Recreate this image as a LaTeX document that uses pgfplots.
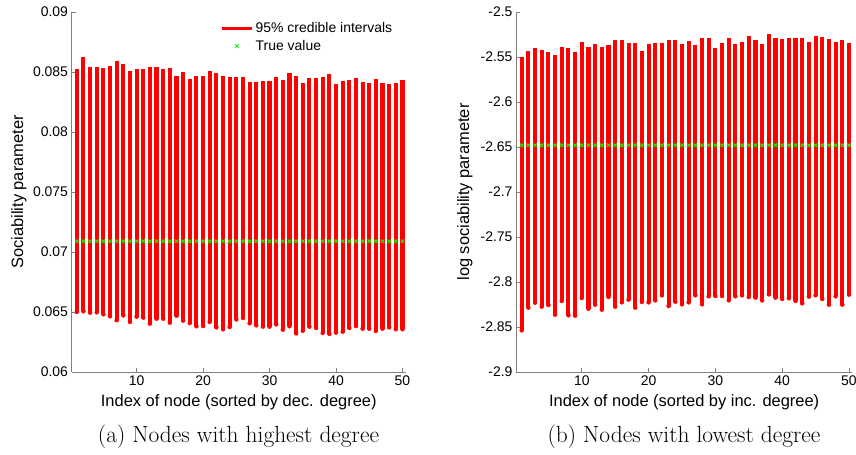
\documentclass[border=0pt]{standalone}
\usepackage{fontspec}
\usepackage{pgfplots}
\usepackage{pgfplotstable}
\pgfplotsset{compat=1.18}
\newfontfamily\arial{Liberation Sans}
\definecolor{axgray}{rgb}{0.5,0.5,0.5}
\definecolor{tvgreen}{rgb}{0,1,0}

\pgfplotstableread{
i lo hi
1 0.06500 0.08528
2 0.06506 0.08628
3 0.06494 0.08542
4 0.06497 0.08542
5 0.06481 0.08533
6 0.06464 0.08550
7 0.06431 0.08592
8 0.06472 0.08564
9 0.06417 0.08508
10 0.06461 0.08522
11 0.06453 0.08525
12 0.06403 0.08544
13 0.06444 0.08544
14 0.06444 0.08522
15 0.06411 0.08533
16 0.06469 0.08464
17 0.06428 0.08503
18 0.06408 0.08442
19 0.06381 0.08467
20 0.06383 0.08467
21 0.06417 0.08506
22 0.06372 0.08489
23 0.06356 0.08469
24 0.06375 0.08458
25 0.06438 0.08458
26 0.06450 0.08458
27 0.06406 0.08419
28 0.06389 0.08417
29 0.06378 0.08425
30 0.06378 0.08425
31 0.06397 0.08461
32 0.06353 0.08433
33 0.06381 0.08492
34 0.06322 0.08464
35 0.06344 0.08406
36 0.06378 0.08447
37 0.06367 0.08450
38 0.06325 0.08458
39 0.06317 0.08483
40 0.06328 0.08397
41 0.06336 0.08422
42 0.06367 0.08433
43 0.06383 0.08453
44 0.06361 0.08414
45 0.06361 0.08408
46 0.06342 0.08442
47 0.06361 0.08406
48 0.06372 0.08403
49 0.06356 0.08408
50 0.06356 0.08433
}\highdeg

\pgfplotstableread{
i lo hi
1 -2.8537 -2.5497
2 -2.8285 -2.5433
3 -2.8230 -2.5397
4 -2.8274 -2.5422
5 -2.8256 -2.5448
6 -2.8363 -2.5474
7 -2.8211 -2.5392
8 -2.8370 -2.5403
9 -2.8374 -2.5448
10 -2.8178 -2.5337
11 -2.8297 -2.5386
12 -2.8252 -2.5359
13 -2.8307 -2.5386
14 -2.8167 -2.5370
15 -2.8274 -2.5311
16 -2.8226 -2.5315
17 -2.8196 -2.5344
18 -2.8285 -2.5344
19 -2.8222 -2.5430
20 -2.8226 -2.5356
21 -2.8204 -2.5344
22 -2.8148 -2.5344
23 -2.8267 -2.5307
24 -2.8219 -2.5315
25 -2.8248 -2.5356
26 -2.8226 -2.5319
27 -2.8148 -2.5370
28 -2.8248 -2.5293
29 -2.8159 -2.5285
30 -2.8156 -2.5397
31 -2.8156 -2.5341
32 -2.8204 -2.5289
33 -2.8159 -2.5352
34 -2.8148 -2.5337
35 -2.8167 -2.5270
36 -2.8174 -2.5315
37 -2.8204 -2.5352
38 -2.8137 -2.5244
39 -2.8174 -2.5293
40 -2.8189 -2.5300
41 -2.8181 -2.5293
42 -2.8211 -2.5293
43 -2.8237 -2.5293
44 -2.8163 -2.5330
45 -2.8148 -2.5267
46 -2.8189 -2.5281
47 -2.8252 -2.5300
48 -2.8159 -2.5333
49 -2.8252 -2.5315
50 -2.8141 -2.5344
}\lowdeg

\pgfplotsset{
  myax/.style={
    scale only axis,
    anchor=south west,
    height=360bp,
    axis lines*=left,
    axis line style={axgray, line width=0.8bp},
    every tick/.style={axgray, line width=0.8bp},
    tick align=inside,
    major tick length=4bp,
    xtick pos=left, ytick pos=left,
    scaled x ticks=false, scaled y ticks=false,
    xtick={10,20,30,40,50},
    xticklabels={10,20,30,40,50},
    tick label style={font=\arial\fontsize{14}{16}\selectfont, text=black},
    every axis x label/.style={at={(axis description cs:0.5,0)}, yshift=-30bp, anchor=center,
      font=\arial\fontsize{16.5}{19}\selectfont},
    every axis y label/.style={rotate=90, anchor=center,
      font=\arial\fontsize{16.5}{19}\selectfont},
    clip=false,
  },
  cilegend/.style={legend image code/.code={\draw[red, line width=3.5bp] (0bp,0bp) -- (30bp,0bp);}},
  tvlegend/.style={legend image code/.code={\draw[mark repeat=2,mark phase=2,##1] plot coordinates {(0bp,0bp) (15bp,0bp) (30bp,0bp)};}},
  cibars/.style={only marks, mark=none, red,
    error bars/.cd, y dir=plus, y explicit, error mark=none,
    error bar style={line width=4.1bp, red}, /pgfplots/.cd},
  tvmarks/.style={only marks, mark=x, mark size=2.3bp, tvgreen, line width=1bp},
}

\begin{document}
\begin{tikzpicture}
\useasboundingbox (0,0) rectangle (856bp,455bp);
\begin{axis}[myax,
  at={(71.5bp,83bp)}, width=334.5bp,
  xmin=0.205, xmax=50.53,
  ymin=0.06, ymax=0.09,
  ytick={0.06,0.065,0.07,0.075,0.08,0.085,0.09},
  yticklabels={0.06,0.065,0.07,0.075,0.08,0.085,0.09},
  xlabel={Index of node (sorted by dec. degree)},
  ylabel={Sociability parameter},
  ylabel style={at={(axis description cs:-0.157,0.5)}},
  legend style={at={(0.435,0.982)}, anchor=north west, draw=none, fill=none,
    font=\arial\fontsize{14}{16}\selectfont, row sep=2bp},
  legend cell align=left,
]
\addplot[cilegend, cibars]
  table[x=i, y=lo, y error expr=\thisrow{hi}-\thisrow{lo}] {\highdeg};
\addlegendentry{95\% credible intervals}
\addplot[tvmarks, tvlegend]
  table[x=i, y expr=0.0709] {\highdeg};
\addlegendentry{True value}
\end{axis}

\begin{axis}[myax,
  at={(516bp,83bp)}, width=336.3bp,
  xmin=0.15, xmax=50.5,
  ymin=-2.9, ymax=-2.5,
  ytick={-2.9,-2.85,-2.8,-2.75,-2.7,-2.65,-2.6,-2.55,-2.5},
  yticklabels={-2.9,-2.85,-2.8,-2.75,-2.7,-2.65,-2.6,-2.55,-2.5},
  xlabel={Index of node (sorted by inc. degree)},
  ylabel={log sociability parameter},
  ylabel style={at={(axis description cs:-0.1517,0.5)}},
]
\addplot[cibars] table[x=i, y=lo, y error expr=\thisrow{hi}-\thisrow{lo}] {\lowdeg};
\addplot[tvmarks] table[x=i, y expr=-2.648] {\lowdeg};
\end{axis}

\node[anchor=base, font=\fontsize{23.5}{26}\selectfont] at (238.5bp,13bp) {(a) Nodes with highest degree};
\node[anchor=base, font=\fontsize{23.5}{26}\selectfont] at (684bp,13bp) {(b) Nodes with lowest degree};
\end{tikzpicture}
\end{document}
